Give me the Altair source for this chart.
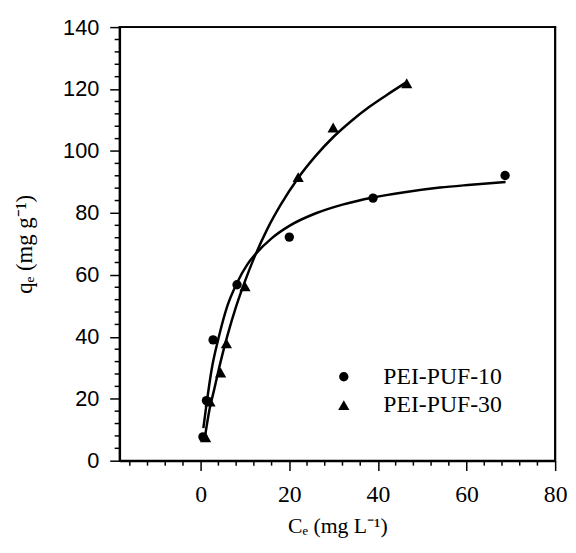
import altair as alt
import pandas as pd

# Measured data points
c10_C = [0.5, 1.3, 2.8, 8.2, 20.0, 38.9, 68.7]
c10_q = [7.7, 19.4, 39.0, 56.8, 72.2, 84.8, 92.1]
c30_C = [1.1, 2.1, 4.5, 5.8, 10.0, 22.0, 29.9, 46.5]
c30_q = [7.5, 19.0, 28.4, 37.8, 56.2, 91.5, 107.5, 121.8]

# Fitted curves
fit10_C = [0.6, 1.3, 2.5, 4.1, 6.0, 8.2, 10.5, 12.3, 16.0, 20.1, 26.0, 32.0, 38.9, 46.0, 54.0, 61.0, 68.8]
fit10_q = [10.5, 18.1, 29.7, 40.0, 49.9, 57.4, 63.3, 66.6, 71.8, 75.9, 79.9, 82.7, 85.0, 86.7, 88.2, 89.1, 90.0]
fit30_C = [1.05, 2.0, 3.0, 4.5, 6.0, 8.0, 10.0, 12.3, 15.0, 18.0, 22.0, 26.0, 30.0, 34.0, 38.0, 42.0, 46.2]
fit30_q = [8.5, 16.6, 22.7, 32.0, 40.2, 49.8, 58.0, 66.3, 74.7, 82.5, 91.3, 98.5, 104.6, 109.7, 114.2, 118.1, 122.0]

series_names = ["PEI-PUF-10", "PEI-PUF-30"]
x_domain = [-18.3, 80]
y_domain = [0, 140]
x_major = [0, 20, 40, 60, 80]
x_minor = [-16, -12, -8, -4, 4, 8, 12, 16, 24, 28, 32, 36, 44, 48, 52, 56, 64, 68, 72, 76]
y_major = [0, 20, 40, 60, 80, 100, 120, 140]
y_minor = [4, 8, 12, 16, 24, 28, 32, 36, 44, 48, 52, 56, 64, 68, 72, 76,
           84, 88, 92, 96, 104, 108, 112, 116, 124, 128, 132, 136]

pts = pd.DataFrame({
    "C": c10_C + c30_C,
    "q": c10_q + c30_q,
    "series": [series_names[0]] * len(c10_C) + [series_names[1]] * len(c30_C),
})
fit = pd.DataFrame({
    "C": fit10_C + fit30_C,
    "q": fit10_q + fit30_q,
    "series": [series_names[0]] * len(fit10_C) + [series_names[1]] * len(fit30_C),
})
xm = pd.DataFrame({"C": x_minor})
ym = pd.DataFrame({"q": y_minor})
# top and right edges of the plot box as two segments
edges = pd.DataFrame({
    "C": [x_domain[0], x_domain[1]],
    "C2": [x_domain[1], x_domain[1]],
    "q": [y_domain[1], y_domain[0]],
    "q2": [y_domain[1], y_domain[1]],
})

W, H = 441, 439
SERIF = "Liberation Serif"
SANS = "Liberation Sans"
TRIANGLE = "M0,-1.1L1.2,1L-1.2,1Z"

xscale = alt.Scale(domain=x_domain, nice=False, zero=False)
yscale = alt.Scale(domain=y_domain, nice=False, zero=False)

xaxis = alt.Axis(values=x_major, tickSize=10, tickWidth=1.5, tickColor="black",
                 domainColor="black", domainWidth=2, grid=False, labelFlush=False,
                 labelFont=SERIF, labelFontSize=24, labelColor="black", labelPadding=12,
                 title="Cₑ (mg L⁻¹)", titleFont=SERIF, titleFontSize=22,
                 titleFontWeight="normal", titleColor="black", titlePadding=10)
yaxis = alt.Axis(values=y_major, tickSize=10, tickWidth=1.5, tickColor="black",
                 domainColor="black", domainWidth=2, grid=False, labelFlush=False,
                 labelFont=SANS, labelFontSize=22, labelColor="black", labelPadding=11,
                 title="qₑ (mg g⁻¹)", titleFont=SERIF, titleFontSize=23,
                 titleFontWeight="normal", titleColor="black", titlePadding=27)

lines = alt.Chart(fit).mark_line(color="black", strokeWidth=2.5, interpolate="monotone").encode(
    x=alt.X("C:Q", scale=xscale, axis=xaxis),
    y=alt.Y("q:Q", scale=yscale, axis=yaxis),
    detail="series:N",
)

points = alt.Chart(pts).mark_point(filled=True, color="black", size=90, opacity=1).encode(
    x=alt.X("C:Q"),
    y=alt.Y("q:Q"),
    shape=alt.Shape("series:N",
                    scale=alt.Scale(domain=series_names, range=["circle", TRIANGLE]),
                    legend=alt.Legend(title=None, orient="none", legendX=215, legendY=342,
                                      labelFont=SERIF, labelFontSize=24, labelColor="black",
                                      symbolFillColor="black", symbolStrokeColor="black",
                                      symbolSize=90, symbolStrokeWidth=0,
                                      rowPadding=5, labelOffset=28, padding=0)),
)

xminor = alt.Chart(xm).mark_rule(color="black", strokeWidth=1.5).encode(
    x=alt.X("C:Q"),
    y=alt.value(H),
    y2=alt.value(H + 5),
)
yminor = alt.Chart(ym).mark_rule(color="black", strokeWidth=1.5).encode(
    y=alt.Y("q:Q"),
    x=alt.value(0),
    x2=alt.value(-5),
)

frame = alt.Chart(edges).mark_rule(color="black", strokeWidth=2, strokeCap="square").encode(
    x=alt.X("C:Q"),
    x2="C2:Q",
    y=alt.Y("q:Q"),
    y2="q2:Q",
)

chart = alt.layer(frame, lines, points, xminor, yminor).properties(
    width=W, height=H,
    autosize=alt.AutoSizeParams(type="none"),
    padding={"left": 113, "top": 16, "right": 13, "bottom": 82},
    view=alt.ViewBackground(stroke="black", strokeWidth=2),
).configure(background="white")

chart.save("out.html", embed_options={"renderer": "svg", "actions": False})
